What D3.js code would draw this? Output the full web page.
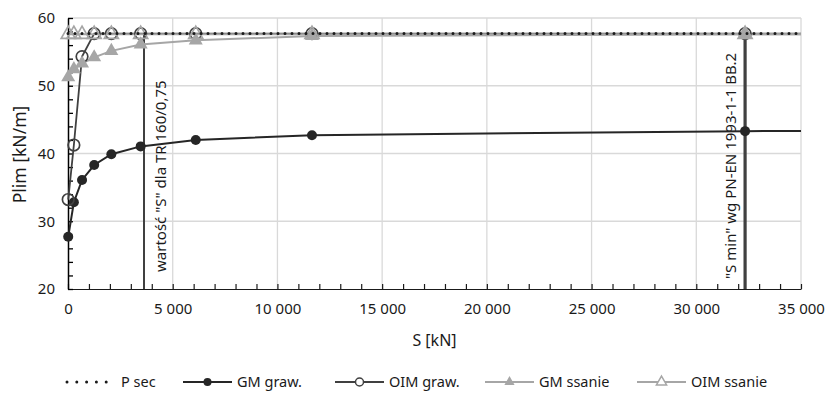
<!DOCTYPE html>
<html><head><meta charset="utf-8">
<script src="https://cdn.jsdelivr.net/npm/d3@7"></script>
<style>
body{margin:0;background:#fff;}
svg{display:block;font-family:"Noto Sans",sans-serif;}
</style></head>
<body><div id="chart"></div>
<script>
// ---- data ----
const S = [10, 280, 670, 1250, 2070, 3470, 6100, 11650, 32330, 50000];
const gmGraw   = [27.7, 32.8, 36.1, 38.3, 39.9, 41.05, 42.0, 42.7, 43.3, 43.4];
const oimGraw  = [33.2, 41.25, 54.3, 57.7, 57.7, 57.7, 57.7, 57.7, 57.7, 57.7];
const gmSsanie = [51.25, 52.45, 53.3, 54.2, 55.15, 56.1, 56.7, 57.35, 57.6, 57.7];
const oimSsanie= [57.6, 57.6, 57.6, 57.6, 57.6, 57.6, 57.6, 57.6, 57.6, 57.6];
const pSecS = [0, 50000];
const pSec  = [57.7, 57.7];
const markerS = [3630, 32330];          // vertical reference lines
const markerRange = [20, 57.7];
const markerLabels = ['wartość "S" dla TR 160/0,75', '"S min" wg PN-EN 1993-1-1 BB.2'];
const xTicks = [0, 5000, 10000, 15000, 20000, 25000, 30000, 35000];
const yTicks = [20, 30, 40, 50, 60];
const legendNames = ["P sec", "GM graw.", "OIM graw.", "GM ssanie", "OIM ssanie"];
const xTitle = "S [kN]", yTitle = "Plim [kN/m]";

// ---- layout ----
const W = 825, H = 396;
const m = {l: 68, r: 24, t: 18, b: 107};
const svg = d3.select("#chart").append("svg").attr("width", W).attr("height", H);
const x = d3.scaleLinear().domain([0, 35000]).range([m.l, W - m.r]);
const y = d3.scaleLinear().domain([20, 60]).range([H - m.b, m.t]);
const fmt = v => d3.format(",")(v).replace(/,/g, " ");

svg.append("defs").append("clipPath").attr("id", "clip")
  .append("rect").attr("x", m.l - 10).attr("y", m.t - 10).attr("width", x(35000) - m.l + 10).attr("height", y(20) - m.t + 10);

// gridlines
const g = svg.append("g");
g.selectAll(".vg").data(xTicks.slice(1)).join("line")
  .attr("x1", d => x(d)).attr("x2", d => x(d)).attr("y1", y(20)).attr("y2", y(60))
  .attr("stroke", "#d9d9d9").attr("stroke-width", 1.3);
g.selectAll(".hg").data(yTicks.slice(1)).join("line")
  .attr("x1", x(0)).attr("x2", x(35000)).attr("y1", d => y(d)).attr("y2", d => y(d))
  .attr("stroke", "#d9d9d9").attr("stroke-width", 1.3);

// axes
const xAxis = d3.axisBottom(x).tickValues(xTicks).tickFormat(fmt).tickSize(0).tickPadding(14);
const xa = svg.append("g").attr("transform", `translate(0,${y(20)})`).call(xAxis);
xa.select(".domain").attr("stroke", "#1a1a1a").attr("stroke-width", 1.2);
xa.selectAll("text").attr("font-size", 15).attr("fill", "#1a1a1a").attr("font-family", "Noto Sans");
const xMinor = d3.axisTop(x).tickValues(d3.range(0, 35001, 1000)).tickSize(5).tickFormat("");
const xm = svg.append("g").attr("transform", `translate(0,${y(20)})`).call(xMinor);
xm.select(".domain").remove();
xm.selectAll("line").attr("stroke", "#1a1a1a").attr("stroke-width", 1.2);

const yAxis = d3.axisLeft(y).tickValues(yTicks).tickSize(0).tickPadding(13);
const ya = svg.append("g").attr("transform", `translate(${x(0)},0)`).call(yAxis);
ya.select(".domain").attr("stroke", "#000").attr("stroke-width", 1.5);
ya.selectAll("text").attr("font-size", 15).attr("fill", "#1a1a1a").attr("font-family", "Noto Sans");
const yMinor = d3.axisRight(y).tickValues(d3.range(20, 60.1, 2)).tickSize(5).tickFormat("");
const ym = svg.append("g").attr("transform", `translate(${x(0)},0)`).call(yMinor);
ym.select(".domain").remove();
ym.selectAll("line").attr("stroke", "#000").attr("stroke-width", 1.3);

// axis titles
svg.append("text").attr("x", (x(0) + x(35000)) / 2).attr("y", 346).attr("text-anchor", "middle")
  .attr("font-size", 16).attr("fill", "#1a1a1a").text(xTitle);
svg.append("text").attr("transform", `translate(26,${(y(20) + y(60)) / 2 + 1}) rotate(-90)`)
  .attr("text-anchor", "middle").attr("font-size", 17.5).attr("fill", "#1a1a1a").text(yTitle);

// vertical reference lines
const widths = [2, 3.2];
markerS.forEach((s, i) => {
  svg.append("line").attr("x1", x(s)).attr("x2", x(s)).attr("y1", y(markerRange[0])).attr("y2", y(markerRange[1]))
    .attr("stroke", "#404040").attr("stroke-width", widths[i]);
});
svg.append("text").attr("transform", `translate(${x(markerS[0]) + 22},272) rotate(-90)`)
  .attr("font-size", 15).attr("fill", "#1a1a1a").text(markerLabels[0]);
svg.append("text").attr("transform", `translate(${x(markerS[1]) - 9},279) rotate(-90)`)
  .attr("font-size", 15).attr("fill", "#1a1a1a").text(markerLabels[1]);

// series
const plot = svg.append("g").attr("clip-path", "url(#clip)");
const marks = svg.append("g");
const line = d3.line().x(d => x(d[0])).y(d => y(d[1]));
const pts = arr => S.map((s, i) => [s, arr[i]]);
const inDom = d => d[0] <= 35000;

const tri = d3.symbol().type(d3.symbolTriangle).size(85);

// GM graw
plot.append("path").attr("d", line(pts(gmGraw))).attr("fill", "none").attr("stroke", "#262626").attr("stroke-width", 2);
marks.selectAll(".gmg").data(pts(gmGraw).filter(inDom)).join("circle")
  .attr("cx", d => x(d[0])).attr("cy", d => y(d[1])).attr("r", 5).attr("fill", "#262626");
// OIM graw
plot.append("path").attr("d", line(pts(oimGraw))).attr("fill", "none").attr("stroke", "#404040").attr("stroke-width", 1.8);
marks.selectAll(".oimg").data(pts(oimGraw).filter(inDom)).join("circle")
  .attr("cx", d => x(d[0])).attr("cy", d => y(d[1])).attr("r", 5.8).attr("fill", "none")
  .attr("stroke", "#404040").attr("stroke-width", 1.7);
// GM ssanie
plot.append("path").attr("d", line(pts(gmSsanie))).attr("fill", "none").attr("stroke", "#a6a6a6").attr("stroke-width", 2);
marks.selectAll(".gms").data(pts(gmSsanie).filter(inDom)).join("path")
  .attr("transform", d => `translate(${x(d[0])},${y(d[1])})`).attr("d", tri).attr("fill", "#a6a6a6");
// OIM ssanie
plot.append("path").attr("d", line(pts(oimSsanie))).attr("fill", "none").attr("stroke", "#a6a6a6").attr("stroke-width", 2);
marks.selectAll(".oims").data(pts(oimSsanie).filter(inDom)).join("path")
  .attr("transform", d => `translate(${x(d[0])},${y(d[1])})`).attr("d", tri).attr("fill", "none")
  .attr("stroke", "#a6a6a6").attr("stroke-width", 1.7);
// P sec
svg.append("g").attr("clip-path", "url(#clip)").append("path")
  .attr("d", line(pSecS.map((s, i) => [s, pSec[i]]))).attr("fill", "none")
  .attr("stroke", "#1a1a1a").attr("stroke-width", 3).attr("stroke-linecap", "round").attr("stroke-dasharray", "0 7");

// legend
const legX = [67, 183, 335, 485, 637];
const ly = 382;
const leg = svg.append("g");
legendNames.forEach((name, i) => {
  const x0 = legX[i], x1 = x0 + 49, xc = (x0 + x1) / 2;
  const gi = leg.append("g");
  if (i === 0) {
    gi.append("line").attr("x1", x0).attr("x2", x1).attr("y1", ly).attr("y2", ly)
      .attr("stroke", "#1a1a1a").attr("stroke-width", 3).attr("stroke-linecap", "round").attr("stroke-dasharray", "0 9.8");
  } else {
    const col = i <= 2 ? (i === 1 ? "#262626" : "#404040") : "#a6a6a6";
    gi.append("line").attr("x1", x0).attr("x2", x1).attr("y1", ly).attr("y2", ly).attr("stroke", col).attr("stroke-width", 2);
    if (i === 1) gi.append("circle").attr("cx", xc).attr("cy", ly).attr("r", 4).attr("fill", col);
    if (i === 2) gi.append("circle").attr("cx", xc).attr("cy", ly).attr("r", 4).attr("fill", "#fff").attr("stroke", col).attr("stroke-width", 1.5);
    if (i === 3) gi.append("path").attr("transform", `translate(${xc},${ly})`).attr("d", d3.symbol().type(d3.symbolTriangle).size(45)).attr("fill", col);
    if (i === 4) gi.append("path").attr("transform", `translate(${xc},${ly})`).attr("d", d3.symbol().type(d3.symbolTriangle).size(45)).attr("fill", "#fff").attr("stroke", col).attr("stroke-width", 1.5);
  }
  gi.append("text").attr("x", x1 + 5).attr("y", ly + 5).attr("font-size", 14.5).attr("fill", "#1a1a1a").text(name);
});
</script></body></html>
